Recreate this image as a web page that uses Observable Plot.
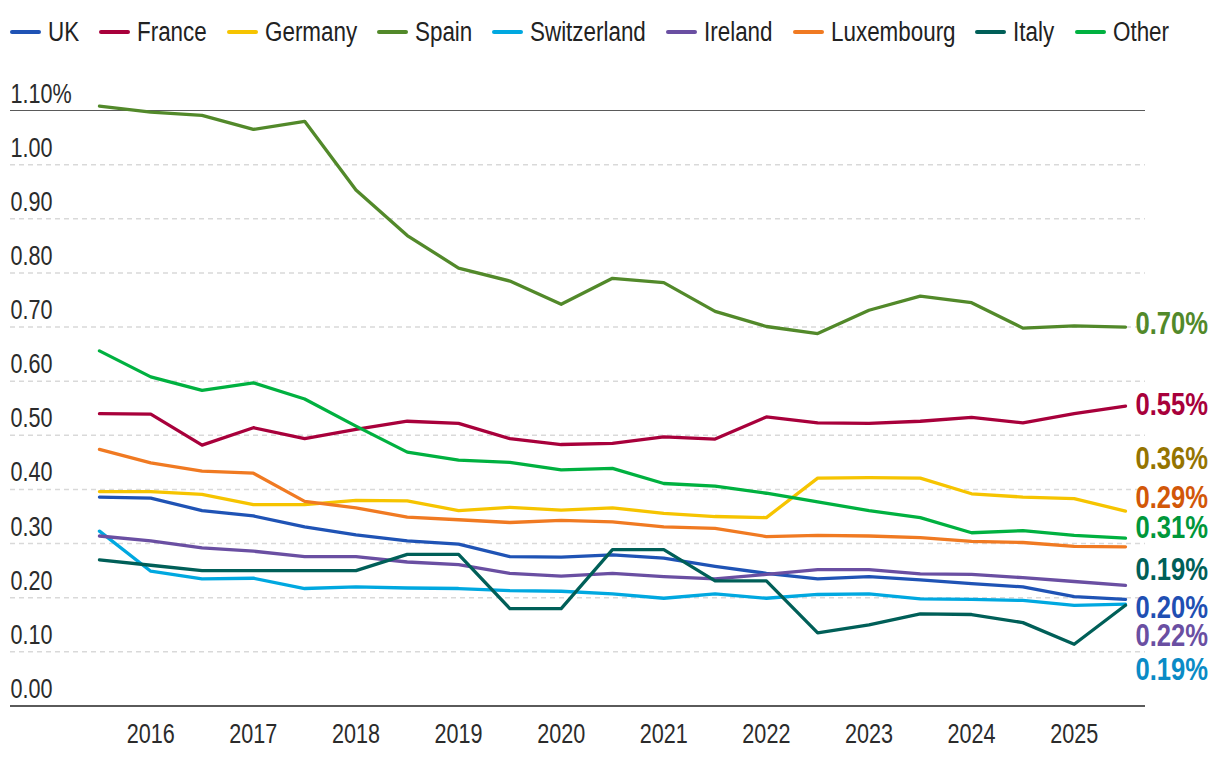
<!DOCTYPE html>
<html>
<head>
<meta charset="utf-8">
<script src="https://cdn.jsdelivr.net/npm/d3@7"></script>
<script src="https://cdn.jsdelivr.net/npm/@observablehq/plot@0.6"></script>
<style>
  html, body { margin: 0; padding: 0; background: #fff; }
  body { font-family: "Liberation Sans", Arial, sans-serif; width: 1220px; overflow: hidden; }
  #legend { display: flex; align-items: center; height: 64px; padding-left: 10px; gap: 20px; font-size: 27px; color: #222; white-space: nowrap; }
  .item { display: flex; align-items: center; }
  .sw { width: 31px; height: 4px; border-radius: 2px; margin-right: 7px; flex: none; }
  .lt { display: inline-block; transform-origin: left center; }
  #chart svg { display: block; overflow: visible; }
</style>
</head>
<body>
<div id="legend"></div>
<div id="chart"></div>
<script>
// ---- data ----
const periods = [2015.5, 2016, 2016.5, 2017, 2017.5, 2018, 2018.5, 2019, 2019.5, 2020, 2020.5,
                 2021, 2021.5, 2022, 2022.5, 2023, 2023.5, 2024, 2024.5, 2025, 2025.5];
const xTickYears = [2016, 2017, 2018, 2019, 2020, 2021, 2022, 2023, 2024, 2025];
const yTickValues = [0, 0.1, 0.2, 0.3, 0.4, 0.5, 0.6, 0.7, 0.8, 0.9, 1.0, 1.1];

const uk          = [0.386,0.384,0.361,0.351,0.331,0.316,0.305,0.299,0.276,0.275,0.279,0.273,0.258,0.245,0.235,0.239,0.233,0.226,0.220,0.202,0.197];
const france      = [0.540,0.539,0.482,0.514,0.494,0.511,0.526,0.522,0.494,0.483,0.485,0.497,0.493,0.534,0.523,0.522,0.526,0.533,0.523,0.540,0.554];
const germany     = [0.396,0.396,0.391,0.372,0.372,0.380,0.379,0.361,0.367,0.362,0.366,0.356,0.350,0.348,0.421,0.422,0.421,0.392,0.386,0.383,0.360];
const spain       = [1.108,1.097,1.091,1.065,1.080,0.953,0.869,0.809,0.785,0.742,0.790,0.782,0.729,0.701,0.688,0.731,0.757,0.745,0.698,0.702,0.700];
const switzerland = [0.323,0.249,0.235,0.236,0.217,0.220,0.218,0.217,0.213,0.212,0.207,0.199,0.207,0.199,0.206,0.207,0.198,0.197,0.195,0.186,0.188];
const ireland     = [0.314,0.305,0.292,0.286,0.276,0.276,0.266,0.261,0.245,0.240,0.245,0.239,0.235,0.243,0.252,0.252,0.244,0.243,0.237,0.230,0.223];
const luxembourg  = [0.474,0.449,0.434,0.430,0.378,0.366,0.349,0.344,0.339,0.343,0.340,0.331,0.328,0.313,0.315,0.314,0.311,0.304,0.302,0.295,0.294];
const italy       = [0.270,0.260,0.250,0.250,0.250,0.250,0.280,0.280,0.180,0.180,0.289,0.289,0.231,0.231,0.135,0.150,0.170,0.169,0.154,0.114,0.186];
const other       = [0.656,0.608,0.583,0.597,0.567,0.517,0.469,0.454,0.450,0.436,0.439,0.411,0.406,0.393,0.377,0.361,0.348,0.320,0.324,0.315,0.310];

const seriesNames = ["UK", "France", "Germany", "Spain", "Switzerland", "Ireland", "Luxembourg", "Italy", "Other"];
const seriesValues = [uk, france, germany, spain, switzerland, ireland, luxembourg, italy, other];

// ---- styles ----
const lineColors  = ["#1f53b5", "#a8003b", "#f6c400", "#52892a", "#00a8e0", "#6a4fa2", "#f07a22", "#005f58", "#00b140"];
const labelColors = ["#1f4fb3", "#a8003b", "#957400", "#52892a", "#0a8bc6", "#6a4fa2", "#d25708", "#005f58", "#00973a"];
// vertical placement of the end labels (in y-axis units, hand-dodged as in the original)
const labelAt = [0.182, 0.557, 0.456, 0.707, 0.067, 0.130, 0.384, 0.252, 0.330];

const FONT = '"Liberation Sans", Arial, sans-serif';
const NARROW = 0.8;         // horizontal squeeze to imitate a condensed face
const LEGEND_NARROW = 0.83;

// legend
const legend = document.getElementById("legend");
const legendTexts = [];
seriesNames.forEach((name, i) => {
  const item = document.createElement("div");
  item.className = "item";
  const sw = document.createElement("span");
  sw.className = "sw";
  sw.style.background = lineColors[i];
  const tx = document.createElement("span");
  tx.className = "lt";
  tx.textContent = name;
  item.appendChild(sw); item.appendChild(tx);
  legend.appendChild(item);
  legendTexts.push(tx);
});
legendTexts.forEach(tx => {
  const w = tx.getBoundingClientRect().width;
  tx.style.transform = `scaleX(${LEGEND_NARROW})`;
  tx.style.marginRight = `${-(1 - LEGEND_NARROW) * w}px`;
});

const rows = seriesNames.map((name, i) => periods.map((t, j) => ({name, t, v: seriesValues[i][j]})));
const lastPoints = seriesNames.map((name, i) => ({
  name, t: periods[periods.length - 1], v: seriesValues[i][periods.length - 1], ly: labelAt[i]
}));

const xDomain = [2014.633, 2025.695];

const marks = [
  Plot.ruleY(yTickValues.filter(d => d > 0 && d < 1.1), {stroke: "#d9d9d9", strokeWidth: 1.5, strokeDasharray: "5,4"}),
  Plot.ruleY([1.1], {stroke: "#5a5a5a", strokeWidth: 1.2}),
  Plot.axisY({ticks: yTickValues, tickSize: 0, tickPadding: 0, textAnchor: "start", lineAnchor: "bottom", dy: -8,
              fontSize: 27, fill: "#2b2b2b", tickFormat: d => d === 1.1 ? "1.10%" : d3.format(".2f")(d), label: null}),
  Plot.axisX({ticks: xTickYears, tickSize: 0, tickPadding: 18, fontSize: 27, fill: "#2b2b2b",
              tickFormat: d => String(d), label: null})
];
rows.forEach((r, i) => {
  marks.push(Plot.line(r, {x: "t", y: "v", stroke: lineColors[i], strokeWidth: 3.3, strokeLinejoin: "round", strokeLinecap: "round"}));
});
marks.push(Plot.ruleY([0], {stroke: "#5a5a5a", strokeWidth: 2}));
lastPoints.forEach((p, i) => {
  marks.push(Plot.text([p], {x: "t", y: "ly", text: d => d3.format(".2f")(d.v) + "%", dx: 10, textAnchor: "start",
    lineAnchor: "middle", fill: labelColors[i], fontSize: 32, fontWeight: "bold"}));
});

const chart = Plot.plot({
  width: 1220,
  height: 700,
  marginLeft: 10,
  marginRight: 75,
  marginTop: 46,
  marginBottom: 58.5,
  x: {domain: xDomain},
  y: {domain: [0, 1.1]},
  style: {fontFamily: FONT, background: "#fff", overflow: "visible"},
  marks
});

// squeeze every text horizontally about its own anchor point
chart.querySelectorAll("text").forEach(t => {
  const ax = parseFloat(t.getAttribute("x")) || 0;
  const prev = t.getAttribute("transform") || "";
  t.setAttribute("transform", `${prev} translate(${ax},0) scale(${NARROW},1) translate(${-ax},0)`.trim());
});

document.getElementById("chart").appendChild(chart);
</script>
</body>
</html>
